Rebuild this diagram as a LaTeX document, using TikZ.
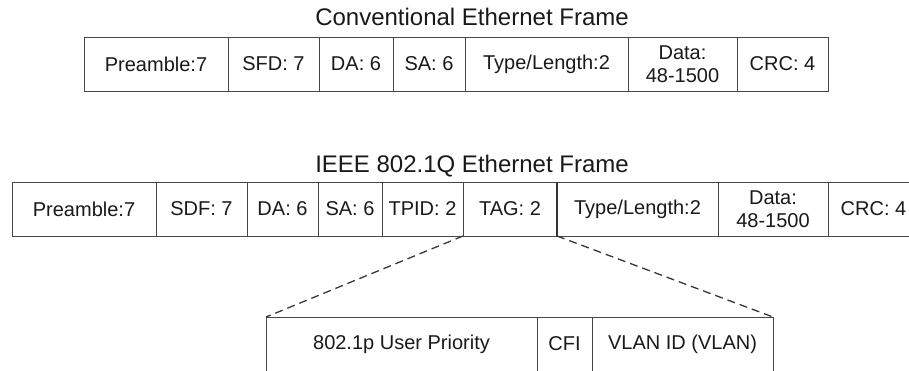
\documentclass[tikz,border=0pt]{standalone}
\usepackage{fontspec}
\setmainfont{Liberation Sans}
\usepackage{tikz}
\usetikzlibrary{positioning}

\begin{document}
\begin{tikzpicture}[x=1pt, y=-1pt,
    field/.style={draw=black!72, line width=1pt, text=black!90, inner sep=0pt, outer sep=0pt,
        minimum height=54pt, align=center, anchor=north west, font=\fontsize{20}{23}\selectfont},
    title/.style={text=black!90, anchor=base, font=\fontsize{24}{26}\selectfont},
    zoomline/.style={draw=black!78, line width=1.3pt, dash pattern=on 8pt off 5pt}
    ]
    \useasboundingbox (0,0) rectangle (909,370);
    \def\conventional{Preamble:7/144, SFD: 7/91, DA: 6/74, SA: 6/72, {Type/Length:2}/163, {Data:\\48-1500}/109, CRC: 4/91}
    \def\tagged{Preamble:7/144, SDF: 7/91, DA: 6/71, SA: 6/64, TPID: 2/81, TAG: 2/94, {Type/Length:2}/161, {Data:\\48-1500}/110, CRC: 4/91}
    \def\tagfields{802.1p User Priority/271, CFI/55, VLAN ID (VLAN)/181}

    % conventional frame
    \node[title] (convtitle) at (472,25) {Conventional Ethernet Frame};
    \foreach \txt/\w [count=\i, remember=\i as \prev (initially 0)] in \conventional {
        \ifnum \i = 1
        \node[field, minimum width=\w pt] (c\i) at (84,37) {\txt};
        \else
        \node[field, minimum width=\w pt, right=0pt of c\prev] (c\i) {\txt};
        \fi
    }

    % 802.1Q frame
    \node[title] (qtitle) at (472,172) {IEEE 802.1Q Ethernet Frame};
    \foreach \txt/\w [count=\i, remember=\i as \prev (initially 0)] in \tagged {
        \ifnum \i = 1
        \node[field, minimum width=\w pt] (q\i) at (12,182) {\txt};
        \else
        \node[field, minimum width=\w pt, right=0pt of q\prev] (q\i) {\txt};
        \fi
    }
    \draw[draw=black!80, line width=1.8pt] (q6.north east) -- (q6.south east);

    % the tag, opened up
    \foreach \txt/\w [count=\i, remember=\i as \prev (initially 0)] in \tagfields {
        \ifnum \i = 1
        \node[field, minimum width=\w pt] (t\i) at (266,317) {\txt};
        \else
        \node[field, minimum width=\w pt, right=0pt of t\prev] (t\i) {\txt};
        \fi
    }
    \draw[zoomline] (q6.south west) -- (t1.north west);
    \draw[zoomline] (q6.south east) -- (t3.north east);
\end{tikzpicture}
\end{document}
